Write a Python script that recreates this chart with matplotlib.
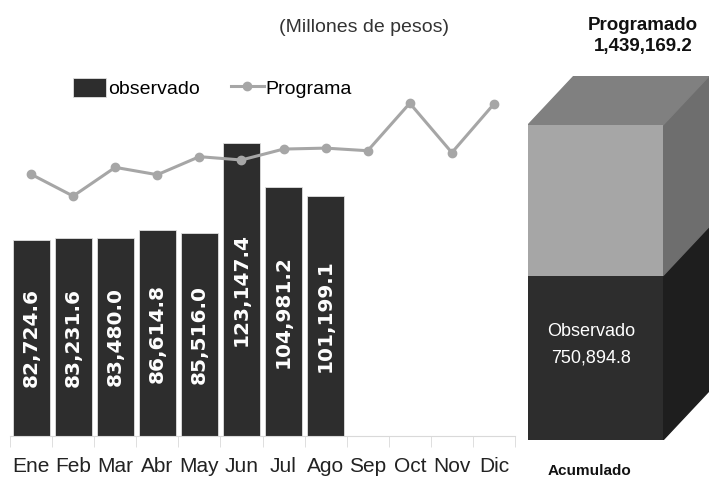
import numpy as np
from matplotlib import pyplot as plt
from matplotlib.patches import Polygon

meses = ['Ene', 'Feb', 'Mar', 'Abr', 'May', 'Jun', 'Jul', 'Ago', 'Sep', 'Oct', 'Nov', 'Dic']
observado = [82724.6, 83231.6, 83480.0, 86614.8, 85516.0, 123147.4, 104981.2, 101199.1]
programa = [110200, 101000, 113100, 110000, 117600, 116200, 120800, 121200,
            120100, 140100, 119300, 139800]
total_prog = 1439169.2
total_obs = 750894.8

NARROW = ['Liberation Sans Narrow', 'Liberation Sans', 'DejaVu Sans']
DARK = '#2d2d2d'
GRIS = '#a6a6a6'

fig = plt.figure(figsize=(7.17, 4.86), dpi=100)

# panel mensual
ax = fig.add_axes([10 / 717, 50 / 486, 505 / 717, 366 / 486])
x = np.arange(len(meses))
bars = ax.bar(x[:len(observado)], observado, width=0.88, color=DARK,
              edgecolor='#e0e0e0', linewidth=0.6, label='observado', zorder=2)
linea, = ax.plot(x, programa, color=GRIS, lw=2.2, marker='o', ms=6, label='Programa', zorder=3)
for b, v in zip(bars, observado):
    ax.text(b.get_x() + b.get_width() / 2, v / 2, f'{v:,.1f}', rotation=90,
            ha='center', va='center', color='white', fontsize=14.5, fontweight='bold')

ax.set_xlim(-0.5, 11.5)
ax.set_ylim(0, 366 * 421)
for s in ['top', 'right', 'left']:
    ax.spines[s].set_visible(False)
ax.spines['bottom'].set_color('#d9d9d9')
ax.set_yticks([])
ax.set_xticks(x)
ax.set_xticklabels(meses, family=NARROW, fontsize=15, color='#222222')
ax.tick_params(axis='x', which='major', length=0, pad=15)
ax.set_xticks(np.arange(-0.5, 12, 1), minor=True)
ax.tick_params(axis='x', which='minor', length=8, color='#d9d9d9')

ax.legend([bars, linea], ['observado', 'Programa'], loc='center left',
          bbox_to_anchor=(0.105, 0.95), ncol=2, frameon=False,
          prop={'family': NARROW, 'size': 14}, handlelength=1.7, handleheight=1.1,
          handletextpad=0.1, columnspacing=1.6, borderpad=0)

fig.text(364 / 717, 1 - 27 / 486, '(Millones de pesos)', ha='center', va='center',
         family=NARROW, fontsize=14, color='#333333')

# panel acumulado (caja 3D)
ax2 = fig.add_axes([528 / 717, 46 / 486, 181 / 717, 364 / 486])
dx = 46 / 135
dy = total_prog * 49 / 315
ax2.bar([0.5], [total_obs], width=1.0, color=DARK, zorder=2)
ax2.bar([0.5], [total_prog - total_obs], bottom=[total_obs], width=1.0, color=GRIS, zorder=2)
ax2.add_patch(Polygon([(1, 0), (1 + dx, dy), (1 + dx, total_obs + dy), (1, total_obs)],
                      closed=True, color='#1e1e1e'))
ax2.add_patch(Polygon([(1, total_obs), (1 + dx, total_obs + dy), (1 + dx, total_prog + dy),
                       (1, total_prog)], closed=True, color='#6e6e6e'))
ax2.add_patch(Polygon([(0, total_prog), (1, total_prog), (1 + dx, total_prog + dy),
                       (dx, total_prog + dy)], closed=True, color='#808080'))
ax2.set_xlim(0, 1 + dx)
ax2.set_ylim(0, total_prog + dy)
ax2.axis('off')
ax2.text(0.47, total_obs * 0.58, f'Observado\n{total_obs:,.1f}', ha='center', va='center',
         color='white', family=NARROW, fontsize=13, linespacing=1.75)

fig.text(643 / 717, 1 - 36 / 486, f'Programado\n{total_prog:,.1f}', ha='center', va='center',
         family=NARROW, fontsize=13.5, fontweight='bold', color='#111111', linespacing=1.25)
fig.text(589 / 717, 1 - 471 / 486, 'Acumulado', ha='center', va='center',
         family=NARROW, fontsize=11, fontweight='bold', color='#111111')

fig.savefig('out.png', dpi=100)
